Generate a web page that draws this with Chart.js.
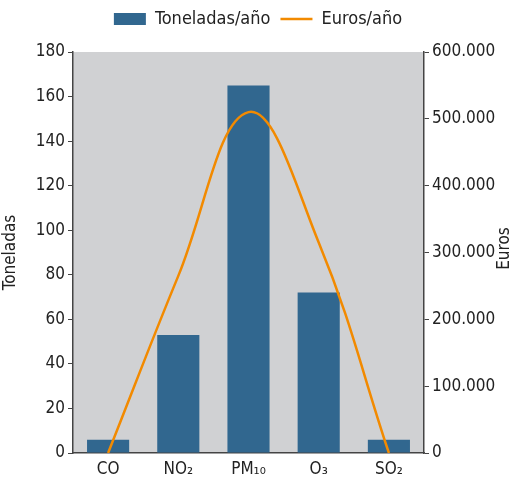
<!DOCTYPE html>
<html>
<head>
<meta charset="utf-8">
<script src="https://cdn.jsdelivr.net/npm/chart.js@4"></script>
<style>
  html, body { margin: 0; padding: 0; background: #fff; }
  #wrap { width: 516px; height: 491px; }
</style>
</head>
<body>
<div id="wrap"><canvas id="chart"></canvas></div>
<script>
const categories = ["CO", "NO\u2082", "PM\u2081\u2080", "O\u2083", "SO\u2082"];
const toneladas = [6, 53, 165, 72, 6];
const euros = [0, 265000, 510000, 315000, 0];
const toneladasTicks = [0, 20, 40, 60, 80, 100, 120, 140, 160, 180];
const eurosTicks = [0, 100000, 200000, 300000, 400000, 500000, 600000];

const FONT = "'Liberation Sans Narrow', 'DejaVu Sans Condensed', sans-serif";
const TEXT = "#222";

// fondo gris del área de datos + título del eje derecho
const bgPlugin = {
  id: "bg",
  afterInit(chart) {
    // más espacio bajo la leyenda
    const lg = chart.legend;
    if (lg) {
      const fit = lg.fit;
      lg.fit = function () {
        fit.call(this);
        this.height += 14;
      };
    }
  },
  beforeDraw(chart) {
    const { ctx, chartArea: a } = chart;
    ctx.save();
    ctx.fillStyle = "#d0d1d3";
    ctx.fillRect(a.left, a.top, a.right - a.left, a.bottom - a.top);
    ctx.restore();
  },
  afterDraw(chart) {
    const { ctx, chartArea: a } = chart;
    ctx.save();
    ctx.translate(505, (a.top + a.bottom) / 2 - 4);
    ctx.rotate(-Math.PI / 2);
    ctx.font = "17px " + FONT;
    ctx.fillStyle = TEXT;
    ctx.textAlign = "center";
    ctx.textBaseline = "middle";
    ctx.fillText("Euros", 0, 0);
    ctx.restore();
  }
};

const fmt = (v) => String(v).replace(/\B(?=(\d{3})+(?!\d))/g, ".");

new Chart(document.getElementById("chart"), {
  data: {
    labels: categories,
    datasets: [
      {
        type: "line",
        label: "Euros/año",
        data: euros,
        yAxisID: "y1",
        borderColor: "#f28a00",
        backgroundColor: "#f28a00",
        borderWidth: 2.5,
        pointRadius: 0,
        pointStyle: "line",
        tension: 0.4,
        order: 0
      },
      {
        type: "bar",
        label: "Toneladas/año",
        data: toneladas,
        yAxisID: "y",
        backgroundColor: "#31678f",
        pointStyle: "rect",
        categoryPercentage: 1,
        barPercentage: 0.6,
        order: 1
      }
    ]
  },
  options: {
    responsive: true,
    maintainAspectRatio: false,
    animation: false,
    layout: { padding: { top: 0 } },
    plugins: {
      legend: {
        position: "top",
        reverse: true,
        labels: {
          font: { family: FONT, size: 18 },
          color: TEXT,
          usePointStyle: true,
          pointStyleWidth: 32,
          boxHeight: 12,
          padding: 10,
          generateLabels(chart) {
            const items = Chart.defaults.plugins.legend.labels.generateLabels(chart);
            items.forEach((it) => {
              if (it.text === "Euros/año") {
                it.pointStyle = "line";
                it.lineWidth = 2.5;
                it.strokeStyle = "#f28a00";
              } else {
                it.pointStyle = "rect";
                it.lineWidth = 0;
              }
            });
            return items;
          }
        }
      },
      tooltip: { enabled: false }
    },
    scales: {
      x: {
        grid: { drawOnChartArea: false, drawTicks: false },
        border: { color: "#444", width: 1.5 },
        ticks: { font: { family: FONT, size: 17 }, color: TEXT, padding: 6 },
        afterFit(s) { s.height = 38; }
      },
      y: {
        position: "left",
        min: 0,
        max: 180,
        afterBuildTicks(s) { s.ticks = toneladasTicks.map((v) => ({ value: v })); },
        grid: { drawOnChartArea: false, tickLength: 5, color: "#444" },
        border: { color: "#444", width: 1.5 },
        ticks: { font: { family: FONT, size: 17 }, color: TEXT, padding: 3 },
        title: { display: true, text: "Toneladas", font: { family: FONT, size: 17 }, color: TEXT, padding: 0 },
        afterFit(s) { s.width = 73; }
      },
      y1: {
        position: "right",
        min: 0,
        max: 600000,
        afterBuildTicks(s) { s.ticks = eurosTicks.map((v) => ({ value: v })); },
        grid: { drawOnChartArea: false, tickLength: 5, color: "#444" },
        border: { color: "#444", width: 1.5 },
        ticks: { font: { family: FONT, size: 17 }, color: TEXT, padding: 3, callback: (v) => fmt(v) },
        afterFit(s) { s.width = 92; }
      }
    }
  },
  plugins: [bgPlugin]
});
</script>
</body>
</html>
